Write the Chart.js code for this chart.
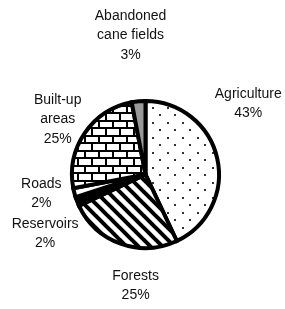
<!DOCTYPE html>
<html>
<head>
<meta charset="utf-8">
<script src="https://cdn.jsdelivr.net/npm/chart.js@4/dist/chart.umd.min.js"></script>
<style>
  html, body { margin: 0; padding: 0; background: #fff; }
  #wrap { width: 285px; height: 309px; }
</style>
</head>
<body>
<div id="wrap"><canvas id="pie-chart"></canvas></div>
<script>
const categories = ['Agriculture', 'Forests', 'Reservoirs', 'Roads', 'Built-up areas', 'Abandoned cane fields'];
const shares = [43, 25, 2, 2, 25, 3];
// how each label is broken into lines
const labelLines = [
  ['Agriculture'],
  ['Forests'],
  ['Reservoirs'],
  ['Roads'],
  ['Built-up', 'areas'],
  ['Abandoned', 'cane fields']
];

// label block offset from the slice's outer mid point
const labelOffsets = [[31, -55], [15, 42], [-32, 32], [-33, 1], [-27, -14], [-8, -66]];

const makeTile = (w, h, draw) => {
  const c = document.createElement('canvas');
  c.width = w; c.height = h;
  const g = c.getContext('2d');
  g.fillStyle = '#fff';
  g.fillRect(0, 0, w, h);
  draw(g);
  return document.getElementById('pie-chart').getContext('2d').createPattern(c, 'repeat');
};

const dots = makeTile(15, 15, g => {
  g.fillStyle = '#333';
  g.fillRect(2, 2, 2, 2);
  g.fillRect(9, 9, 2, 2);
});

const stripes = makeTile(12, 12, g => {
  g.strokeStyle = '#000';
  g.lineWidth = 4;
  [-12, 0, 12].forEach(o => {
    g.beginPath();
    g.moveTo(o - 2, -2);
    g.lineTo(o + 14, 14);
    g.stroke();
  });
});

const bricks = makeTile(14, 15, g => {
  g.fillStyle = '#000';
  g.fillRect(0, 0, 14, 2);
  g.fillRect(0, 7, 14, 2);
  g.fillRect(0, 0, 2, 7);
  g.fillRect(7, 7, 2, 8);
});

const fills = [dots, stripes, '#000', '#fff', bricks, '#999'];

const outsideLabels = {
  id: 'outsideLabels',
  afterDraw(chart) {
    const c = chart.ctx;
    const arcs = chart.getDatasetMeta(0).data;
    c.save();
    c.font = '14px "Liberation Sans", Arial, sans-serif';
    c.fillStyle = '#111';
    c.textAlign = 'center';
    c.textBaseline = 'middle';
    arcs.forEach((arc, i) => {
      const {x, y, startAngle, endAngle, outerRadius} = arc.getProps(['x', 'y', 'startAngle', 'endAngle', 'outerRadius']);
      const mid = (startAngle + endAngle) / 2;
      const lines = labelLines[i].concat([shares[i] + '%']);
      const cx = x + Math.cos(mid) * outerRadius + labelOffsets[i][0];
      const cy = y + Math.sin(mid) * outerRadius + labelOffsets[i][1];
      const lh = 19.5;
      lines.forEach((t, k) => {
        c.fillText(t, cx, cy + (k - (lines.length - 1) / 2) * lh);
      });
    });
    c.restore();
  }
};

new Chart(document.getElementById('pie-chart'), {
  type: 'pie',
  data: {
    labels: categories,
    datasets: [{
      data: shares,
      backgroundColor: fills,
      borderColor: '#000',
      borderWidth: 4,
      borderJoinStyle: 'miter'
    }]
  },
  options: {
    responsive: true,
    maintainAspectRatio: false,
    animation: false,
    layout: { padding: { left: 70, right: 64, top: 99, bottom: 59 } },
    plugins: {
      legend: { display: false },
      tooltip: { enabled: false }
    }
  },
  plugins: [outsideLabels]
});
</script>
</body>
</html>
